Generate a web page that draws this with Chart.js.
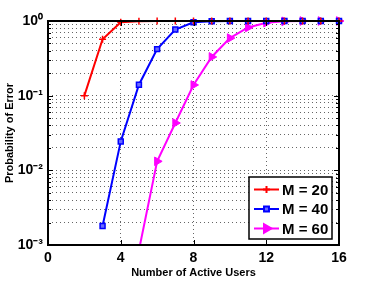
<!DOCTYPE html>
<html>
<head>
<meta charset="utf-8">
<script src="https://cdn.jsdelivr.net/npm/chart.js@4/dist/chart.umd.min.js"></script>
<style>
  html, body { margin: 0; padding: 0; background: #fff; }
  #wrap { width: 374px; height: 281px; }
</style>
</head>
<body>
<div id="wrap"><canvas id="errChart" width="374" height="281"></canvas></div>
<script>
// values
const usersM20 = [2, 3, 4, 5, 6, 7, 8, 9, 10, 11, 12, 13, 14, 15, 16];
const probM20 = [0.1, 0.57, 0.96, 0.995, 1, 1, 1, 1, 1, 1, 1, 1, 1, 1, 1];
const usersM40 = [3, 4, 5, 6, 7, 8, 9, 10, 11, 12, 13, 14, 15, 16];
const probM40 = [0.0018, 0.0244, 0.14, 0.42, 0.77, 0.96, 0.995, 1, 1, 1, 1, 1, 1, 1];
const usersM60 = [5, 6, 7, 8, 9, 10, 11, 12, 13, 14, 15, 16];
const probM60 = [0.00085, 0.0132, 0.043, 0.139, 0.33, 0.59, 0.82, 0.95, 0.99, 1, 1, 1];
const seriesLabels = ['M = 20', 'M = 40', 'M = 60'];
const xTicks = [0, 4, 8, 12, 16];
const yDecades = [-3, -2, -1, 0];

const sup = { '0': '\u2070', '1': '\u00b9', '2': '\u00b2', '3': '\u00b3', '-': '\u207b' };
const toSup = (s) => String(s).split('').map(c => sup[c] || c).join('');

const toPoints = (xs, ys) => xs.map((x, i) => ({ x: x, y: ys[i] }));

// all log grid positions (1..9 x 10^k)
const yTickVals = [];
yDecades.forEach(d => {
  if (d === 0) { yTickVals.push(1); return; }
  for (let m = 1; m <= 9; m++) yTickVals.push(+(m * Math.pow(10, d)).toPrecision(3));
});

const FONT = 'Liberation Sans, Arial, sans-serif';
const GRID = 'rgba(0,0,0,0.6)';

// black frame + inward ticks like the original figure
const framePlugin = {
  id: 'frame',
  afterDatasetsDraw(chart) {
    const { ctx, chartArea: a, scales } = chart;
    ctx.save();
    ctx.strokeStyle = '#000';
    ctx.lineWidth = 1;
    scales.y.ticks.forEach(t => {
      const y = Math.round(scales.y.getPixelForValue(t.value)) + 0.5;
      const major = Math.abs(Math.log10(t.value) - Math.round(Math.log10(t.value))) < 1e-6;
      const len = major ? 5 : 3;
      ctx.beginPath();
      ctx.moveTo(a.left, y); ctx.lineTo(a.left + len, y);
      ctx.moveTo(a.right, y); ctx.lineTo(a.right - len, y);
      ctx.stroke();
    });
    xTicks.forEach(v => {
      const x = Math.round(scales.x.getPixelForValue(v)) + 0.5;
      ctx.beginPath();
      ctx.moveTo(x, a.bottom); ctx.lineTo(x, a.bottom - 5);
      ctx.moveTo(x, a.top); ctx.lineTo(x, a.top + 5);
      ctx.stroke();
    });
    ctx.lineWidth = 2;
    ctx.strokeRect(a.left, a.top, a.right - a.left, a.bottom - a.top);
    ctx.restore();
  }
};

// legend box in the lower right corner of the axes
const legendPlugin = {
  id: 'boxLegend',
  afterDraw(chart) {
    const { ctx, chartArea: a } = chart;
    const w = 83, h = 62;
    const bx = a.right - 7 - w, by = a.bottom - 6 - h;
    ctx.save();
    ctx.fillStyle = '#fff';
    ctx.fillRect(bx, by, w, h);
    ctx.strokeStyle = '#000';
    ctx.lineWidth = 1.5;
    ctx.strokeRect(bx, by, w, h);
    chart.data.datasets.forEach((ds, i) => {
      const y = by + 12.5 + i * 19.5;
      ctx.strokeStyle = ds.borderColor;
      ctx.lineWidth = 2;
      ctx.beginPath();
      ctx.moveTo(bx + 5, y); ctx.lineTo(bx + 30, y);
      ctx.stroke();
      ctx.fillStyle = ds.backgroundColor;
      Chart.helpers.drawPoint(ctx, {
        pointStyle: ds.pointStyle,
        radius: ds.pointRadius,
        rotation: ds.pointRotation || 0,
        borderWidth: ds.pointBorderWidth || 1.5
      }, bx + 17.5, y);
      ctx.fillStyle = '#000';
      ctx.font = 'bold 15px ' + FONT;
      ctx.textBaseline = 'middle';
      ctx.textAlign = 'left';
      ctx.fillText(ds.label, bx + 33, y + 1);
    });
    ctx.restore();
  }
};

const ctx = document.getElementById('errChart').getContext('2d');
new Chart(ctx, {
  type: 'line',
  data: {
    datasets: [
      {
        label: seriesLabels[0],
        data: toPoints(usersM20, probM20),
        borderColor: '#ff0000',
        backgroundColor: '#ff0000',
        borderWidth: 2,
        pointStyle: 'cross',
        pointRadius: 3.5,
        pointBorderWidth: 1.5,
        clip: { left: 0, right: 6, top: 6, bottom: 0 }
      },
      {
        label: seriesLabels[1],
        data: toPoints(usersM40, probM40),
        borderColor: '#0000ff',
        backgroundColor: '#6a6aff',
        borderWidth: 2,
        pointStyle: 'rect',
        pointRadius: 3.5,
        pointBorderWidth: 1.5,
        clip: { left: 0, right: 6, top: 6, bottom: 0 }
      },
      {
        label: seriesLabels[2],
        data: toPoints(usersM60, probM60),
        borderColor: '#ff00ff',
        backgroundColor: '#ff00ff',
        borderWidth: 2,
        pointStyle: 'triangle',
        pointRotation: 90,
        pointRadius: 5,
        pointBorderWidth: 1,
        clip: { left: 0, right: 6, top: 6, bottom: 0 }
      }
    ]
  },
  options: {
    responsive: false,
    animation: false,
    layout: { padding: { top: 21, right: 35, bottom: 1, left: 0 } },
    plugins: {
      legend: { display: false },
      tooltip: { enabled: false }
    },
    elements: { line: { tension: 0 } },
    scales: {
      x: {
        type: 'linear',
        min: 0,
        max: 16,
        afterBuildTicks: (s) => { s.ticks = xTicks.map(v => ({ value: v })); },
        afterFit: (s) => { s.height = 35; },
        grid: {
          drawTicks: false,
          color: (c) => (c.tick && (c.tick.value === 0 || c.tick.value === 16)) ? 'rgba(0,0,0,0)' : GRID
        },
        border: { display: false, dash: [1, 3] },
        ticks: {
          color: '#000',
          padding: 5,
          maxRotation: 0,
          font: { family: FONT, size: 14, weight: 'bold' }
        },
        title: {
          display: true,
          text: 'Number of Active Users',
          color: '#000',
          padding: { top: 0, bottom: 0 },
          font: { family: FONT, size: 11, weight: 'bold' }
        }
      },
      y: {
        type: 'logarithmic',
        min: 0.001,
        max: 1,
        afterBuildTicks: (s) => { s.ticks = yTickVals.map(v => ({ value: v })); },
        afterFit: (s) => { s.width = 48; },
        grid: {
          drawTicks: false,
          color: GRID
        },
        border: { display: false, dash: [1, 3] },
        ticks: {
          color: '#000',
          padding: 5,
          autoSkip: false,
          font: { family: FONT, size: 14, weight: 'bold' },
          callback: (v) => {
            const e = Math.log10(v);
            if (Math.abs(e - Math.round(e)) > 1e-6) return '';
            return '10' + toSup(Math.round(e));
          }
        },
        title: {
          display: true,
          text: 'Probability of Error',
          color: '#000',
          padding: { top: 3, bottom: 0 },
          font: { family: FONT, size: 11, weight: 'bold' }
        }
      }
    }
  },
  plugins: [framePlugin, legendPlugin]
});
</script>
</body>
</html>
